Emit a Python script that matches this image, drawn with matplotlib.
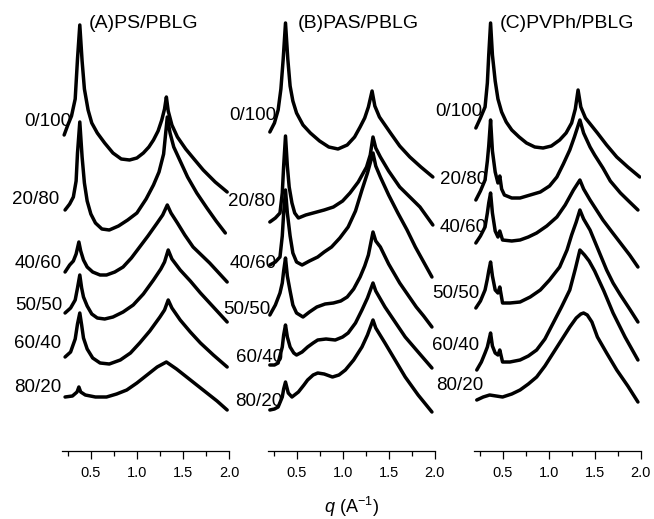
import numpy as np
import matplotlib
matplotlib.use("Agg")
import matplotlib.pyplot as plt
from matplotlib.ticker import MultipleLocator, FormatStrFormatter

plt.rcParams["font.family"] = ["Liberation Sans", "DejaVu Sans"]
plt.rcParams["mathtext.fontset"] = "custom"
plt.rcParams["mathtext.rm"] = "Liberation Sans"
plt.rcParams["mathtext.it"] = "Liberation Sans:italic"

# ------------------------------------------------------------
# WAXD profiles, stacked (intensity in a.u., offsets included)
# ------------------------------------------------------------
compositions = ["0/100", "20/80", "40/60", "50/50", "60/40", "80/20"]
panel_titles = ["(A)PS/PBLG", "(B)PAS/PBLG", "(C)PVPh/PBLG"]

# (A) PS/PBLG
ps_q_0_100 = [0.21, 0.25, 0.29, 0.33, 0.355, 0.38, 0.405, 0.43, 0.47, 0.51, 0.57, 0.65, 0.74, 0.83, 0.92, 1.00, 1.07, 1.13, 1.18, 1.23, 1.27, 1.30, 1.32, 1.34, 1.38, 1.44, 1.53, 1.62, 1.72, 1.85, 1.98]
ps_i_0_100 = [316, 326, 335, 352, 392, 426, 390, 362, 341, 328, 318, 308, 298, 292, 291, 293, 298, 304, 311, 320, 331, 342, 354, 340, 326, 314, 302, 292, 281, 269, 259]
ps_q_20_80 = [0.22, 0.27, 0.31, 0.34, 0.355, 0.38, 0.405, 0.43, 0.46, 0.50, 0.55, 0.62, 0.70, 0.80, 0.90, 1.00, 1.10, 1.18, 1.24, 1.29, 1.33, 1.36, 1.40, 1.47, 1.55, 1.65, 1.76, 1.86, 1.96]
ps_i_20_80 = [241, 247, 254, 270, 298, 329, 294, 268, 250, 237, 228, 222, 221, 225, 231, 238, 252, 266, 279, 297, 334, 318, 304, 290, 274, 258, 243, 230, 218]
ps_q_40_60 = [0.22, 0.27, 0.31, 0.34, 0.37, 0.39, 0.42, 0.46, 0.52, 0.60, 0.67, 0.76, 0.85, 0.94, 1.03, 1.12, 1.22, 1.28, 1.33, 1.37, 1.44, 1.52, 1.61, 1.70, 1.79, 1.88, 1.98]
ps_i_40_60 = [179, 186, 190, 197, 209, 200, 191, 184, 179, 176, 176, 179, 184, 193, 204, 215, 228, 236, 246, 238, 228, 216, 204, 196, 188, 179, 169]
ps_q_50_50 = [0.22, 0.28, 0.33, 0.355, 0.38, 0.40, 0.42, 0.46, 0.51, 0.57, 0.65, 0.74, 0.85, 0.96, 1.07, 1.18, 1.26, 1.30, 1.34, 1.38, 1.47, 1.58, 1.69, 1.83, 1.98]
ps_i_50_50 = [138, 143, 151, 163, 176, 163, 154, 145, 137, 133, 132, 134, 139, 146, 157, 171, 182, 189, 201, 192, 181, 170, 158, 144, 129]
ps_q_60_40 = [0.22, 0.28, 0.33, 0.355, 0.38, 0.40, 0.42, 0.46, 0.52, 0.60, 0.70, 0.82, 0.93, 1.03, 1.14, 1.25, 1.30, 1.34, 1.38, 1.47, 1.58, 1.69, 1.83, 1.98]
ps_i_60_40 = [94, 99, 112, 127, 138, 126, 113, 102, 93, 88, 87, 91, 98, 108, 120, 134, 141, 151, 143, 131, 119, 108, 96, 84]
ps_q_80_20 = [0.22, 0.30, 0.35, 0.37, 0.39, 0.44, 0.55, 0.67, 0.78, 0.89, 1.00, 1.11, 1.22, 1.32, 1.43, 1.54, 1.65, 1.76, 1.87, 1.98]
ps_i_80_20 = [54, 55, 59, 64, 59, 56, 54, 54, 57, 61, 68, 76, 84, 89, 82, 74, 66, 58, 50, 41]

# (B) PAS/PBLG
pas_q_0_100 = [0.21, 0.26, 0.30, 0.33, 0.355, 0.38, 0.405, 0.43, 0.46, 0.50, 0.57, 0.65, 0.75, 0.85, 0.95, 1.05, 1.13, 1.19, 1.24, 1.28, 1.32, 1.35, 1.40, 1.52, 1.62, 1.73, 1.85, 1.98]
pas_i_0_100 = [319, 328, 341, 362, 392, 428, 392, 365, 350, 338, 326, 318, 310, 304, 302, 306, 314, 324, 333, 344, 360, 345, 334, 318, 305, 294, 284, 274]
pas_q_20_80 = [0.21, 0.27, 0.32, 0.345, 0.36, 0.38, 0.40, 0.42, 0.45, 0.48, 0.52, 0.60, 0.68, 0.80, 0.90, 1.00, 1.08, 1.17, 1.26, 1.30, 1.33, 1.36, 1.41, 1.50, 1.62, 1.73, 1.84, 1.98]
pas_i_20_80 = [229, 233, 238, 258, 285, 315, 285, 264, 248, 238, 233, 236, 238, 241, 244, 250, 258, 269, 284, 296, 314, 303, 294, 280, 264, 254, 244, 226]
pas_q_40_60 = [0.21, 0.27, 0.32, 0.345, 0.36, 0.38, 0.40, 0.43, 0.46, 0.50, 0.56, 0.64, 0.73, 0.80, 0.88, 0.97, 1.06, 1.14, 1.21, 1.27, 1.33, 1.36, 1.41, 1.50, 1.60, 1.70, 1.79, 1.88, 1.97]
pas_i_40_60 = [186, 189, 194, 215, 238, 261, 238, 215, 198, 189, 186, 190, 194, 199, 204, 213, 224, 240, 261, 278, 298, 285, 274, 256, 238, 221, 204, 189, 174]
pas_q_50_50 = [0.21, 0.27, 0.32, 0.345, 0.36, 0.38, 0.40, 0.43, 0.46, 0.50, 0.57, 0.64, 0.72, 0.81, 0.90, 0.98, 1.05, 1.12, 1.19, 1.24, 1.28, 1.33, 1.36, 1.41, 1.50, 1.62, 1.71, 1.80, 1.88, 1.97]
pas_i_50_50 = [136, 146, 158, 168, 180, 193, 175, 160, 146, 138, 134, 139, 144, 147, 148, 150, 154, 162, 174, 185, 196, 219, 210, 204, 187, 168, 156, 144, 135, 124]
pas_q_60_40 = [0.21, 0.26, 0.30, 0.345, 0.36, 0.38, 0.40, 0.43, 0.47, 0.50, 0.56, 0.62, 0.68, 0.73, 0.82, 0.92, 1.00, 1.06, 1.14, 1.21, 1.27, 1.33, 1.36, 1.46, 1.57, 1.68, 1.82, 1.97]
pas_i_60_40 = [86, 86, 88, 104, 116, 126, 114, 104, 98, 96, 99, 104, 108, 111, 112, 111, 114, 118, 128, 141, 153, 168, 160, 144, 129, 114, 99, 83]
pas_q_80_20 = [0.21, 0.26, 0.30, 0.345, 0.36, 0.38, 0.41, 0.45, 0.52, 0.58, 0.62, 0.68, 0.73, 0.80, 0.89, 0.96, 1.03, 1.12, 1.21, 1.27, 1.33, 1.36, 1.46, 1.57, 1.68, 1.82, 1.97]
pas_i_80_20 = [41, 42, 44, 54, 62, 69, 58, 54, 59, 66, 71, 76, 78, 77, 74, 76, 81, 91, 104, 116, 131, 123, 108, 91, 74, 56, 39]

# (C) PVPh/PBLG
pvph_q_0_100 = [0.21, 0.26, 0.31, 0.335, 0.35, 0.37, 0.39, 0.42, 0.45, 0.49, 0.54, 0.60, 0.68, 0.76, 0.85, 0.94, 1.03, 1.12, 1.19, 1.25, 1.29, 1.32, 1.35, 1.40, 1.53, 1.63, 1.74, 1.86, 1.99]
pvph_i_0_100 = [323, 333, 344, 368, 396, 428, 396, 370, 352, 339, 329, 321, 314, 308, 304, 303, 305, 311, 318, 328, 342, 361, 344, 333, 318, 306, 294, 284, 274]
pvph_q_20_80 = [0.21, 0.26, 0.31, 0.335, 0.35, 0.37, 0.39, 0.42, 0.45, 0.47, 0.49, 0.52, 0.60, 0.69, 0.80, 0.91, 1.01, 1.09, 1.16, 1.23, 1.28, 1.34, 1.38, 1.45, 1.50, 1.59, 1.67, 1.78, 1.88, 1.97]
pvph_i_20_80 = [251, 260, 271, 290, 305, 331, 300, 279, 268, 275, 262, 256, 253, 253, 256, 259, 265, 274, 287, 301, 314, 331, 318, 304, 296, 283, 270, 258, 249, 241]
pvph_q_40_60 = [0.21, 0.26, 0.31, 0.335, 0.35, 0.37, 0.39, 0.42, 0.45, 0.47, 0.50, 0.60, 0.69, 0.78, 0.87, 0.98, 1.09, 1.18, 1.27, 1.34, 1.38, 1.45, 1.52, 1.59, 1.68, 1.78, 1.88, 1.97]
pvph_i_40_60 = [208, 215, 224, 238, 248, 258, 238, 220, 214, 220, 211, 210, 211, 214, 218, 225, 234, 246, 261, 271, 262, 251, 241, 231, 220, 208, 196, 184]
pvph_q_50_50 = [0.21, 0.26, 0.31, 0.335, 0.35, 0.37, 0.39, 0.42, 0.45, 0.47, 0.50, 0.58, 0.69, 0.80, 0.91, 1.01, 1.12, 1.20, 1.25, 1.30, 1.34, 1.38, 1.45, 1.54, 1.63, 1.70, 1.78, 1.88, 1.97]
pvph_i_50_50 = [143, 150, 161, 172, 180, 189, 175, 161, 158, 164, 148, 148, 149, 154, 161, 171, 184, 201, 216, 229, 241, 232, 221, 201, 181, 168, 156, 142, 129]
pvph_q_60_40 = [0.22, 0.27, 0.31, 0.335, 0.35, 0.37, 0.39, 0.42, 0.45, 0.47, 0.50, 0.58, 0.69, 0.78, 0.87, 0.96, 1.05, 1.14, 1.23, 1.29, 1.34, 1.39, 1.44, 1.50, 1.60, 1.70, 1.83, 1.97]
pvph_i_60_40 = [81, 89, 98, 104, 110, 118, 105, 98, 96, 101, 89, 89, 91, 95, 101, 112, 128, 144, 161, 182, 201, 196, 190, 180, 160, 138, 114, 91]
pvph_q_80_20 = [0.22, 0.29, 0.36, 0.43, 0.50, 0.60, 0.69, 0.78, 0.87, 0.96, 1.05, 1.14, 1.23, 1.30, 1.35, 1.38, 1.42, 1.47, 1.53, 1.63, 1.74, 1.86, 1.97]
pvph_i_80_20 = [51, 54, 56, 55, 54, 57, 61, 67, 74, 85, 98, 111, 124, 133, 137, 138, 136, 129, 114, 98, 81, 65, 49]

panels = [
    [(ps_q_0_100, ps_i_0_100), (ps_q_20_80, ps_i_20_80), (ps_q_40_60, ps_i_40_60),
     (ps_q_50_50, ps_i_50_50), (ps_q_60_40, ps_i_60_40), (ps_q_80_20, ps_i_80_20)],
    [(pas_q_0_100, pas_i_0_100), (pas_q_20_80, pas_i_20_80), (pas_q_40_60, pas_i_40_60),
     (pas_q_50_50, pas_i_50_50), (pas_q_60_40, pas_i_60_40), (pas_q_80_20, pas_i_80_20)],
    [(pvph_q_0_100, pvph_i_0_100), (pvph_q_20_80, pvph_i_20_80), (pvph_q_40_60, pvph_i_40_60),
     (pvph_q_50_50, pvph_i_50_50), (pvph_q_60_40, pvph_i_60_40), (pvph_q_80_20, pvph_i_80_20)],
]

# label anchors (right edge, centre) in data coords of each panel
label_pos = [
    [(0.29, 329), (0.16, 251), (0.18, 188), (0.19, 145), (0.175, 108), (0.175, 64)],
    [(0.28, 336), (0.265, 249), (0.28, 188), (0.22, 142), (0.35, 94), (0.35, 49)],
    [(0.28, 339), (0.33, 271), (0.33, 223), (0.25, 158), (0.25, 106), (0.29, 66)],
]
title_pos = [(0.48, 428), (0.51, 428), (0.47, 428)]

W, H = 654, 519
fig = plt.figure(figsize=(W / 100, H / 100), dpi=100)

ax_left = [62.3, 268.0, 474.0]
ax_w = 166.7
ax_bottom = H - 451

for k in range(3):
    ax = fig.add_axes([ax_left[k] / W, ax_bottom / H, ax_w / W, 451 / H])
    for q, inten in panels[k]:
        ax.plot(q, inten, color="black", lw=2.5, solid_joinstyle="round",
                solid_capstyle="round")
    ax.set_xlim(0.19, 2.0)
    ax.set_ylim(0, 451)
    for side in ["left", "right", "top"]:
        ax.spines[side].set_visible(False)
    ax.spines["bottom"].set_linewidth(0.9)
    ax.set_yticks([])
    ax.set_xticks([0.5, 1.0, 1.5, 2.0])
    ax.xaxis.set_minor_locator(MultipleLocator(0.25))
    ax.xaxis.set_major_formatter(FormatStrFormatter("%.1f"))
    ax.tick_params(axis="x", which="major", direction="out", length=5.8, width=0.9,
                   labelsize=10.5, pad=5)
    ax.tick_params(axis="x", which="minor", direction="out", length=3.6, width=0.9)

    for name, (lx, ly) in zip(compositions, label_pos[k]):
        ax.text(lx, ly, name, ha="right", va="center", fontsize=13.5, clip_on=False)
    tx, ty = title_pos[k]
    ax.text(tx, ty, panel_titles[k], ha="left", va="center", fontsize=14, clip_on=False)

fig.text(351.7 / W, 1 - 506.7 / H, r"$q$ (A$^{-1}$)", ha="center", va="center", fontsize=13)

fig.savefig("out.png", dpi=100)
